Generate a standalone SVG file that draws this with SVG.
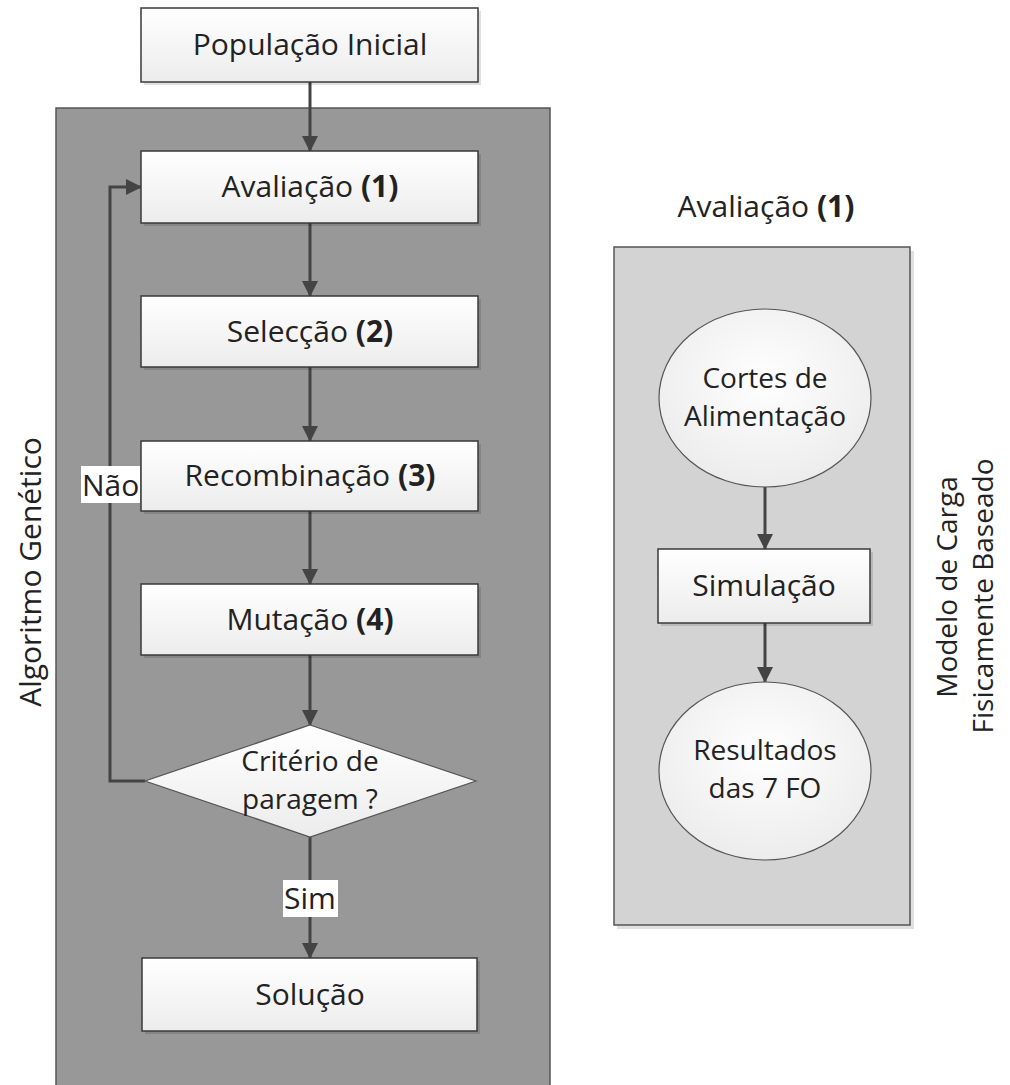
<svg xmlns="http://www.w3.org/2000/svg" width="1010" height="1085" viewBox="0 0 1010 1085">
<defs>
<linearGradient id="boxg" x1="0" y1="0" x2="0" y2="1">
<stop offset="0" stop-color="#ffffff"/>
<stop offset="1" stop-color="#ececec"/>
</linearGradient>
<radialGradient id="ellg" cx="0.5" cy="0.4" r="0.6">
<stop offset="0" stop-color="#ffffff"/>
<stop offset="1" stop-color="#ececec"/>
</radialGradient>
<marker id="arr" markerUnits="userSpaceOnUse" markerWidth="16" markerHeight="16" viewBox="0 0 16 16" refX="15" refY="8" orient="auto">
<path d="M0,0 L16,8 L0,16 Z" fill="#444"/>
</marker>
</defs>
<style>
text{font-family:"Open Sans","Liberation Sans",sans-serif;fill:#222;font-size:30px;}
.c{text-anchor:middle;}
.b{font-weight:bold;}
.v{font-size:28px;}
.m{font-size:28px;}
.box{fill:url(#boxg);stroke:#3a3a3a;stroke-width:1.5;}
.ell{fill:url(#ellg);stroke:#555;stroke-width:1.2;}
.sh{fill:#000;opacity:0.12;}
.con{fill:none;stroke:#444;stroke-width:3;}
</style>
<rect x="0" y="0" width="1010" height="1085" fill="#ffffff"/>
<g id="panel-ag">
<rect x="56" y="108" width="494" height="985" fill="#989898" stroke="#555" stroke-width="1.5"/>
</g>
<g id="panel-av">
<rect x="617" y="251" width="297" height="678" class="sh"/>
<rect x="614" y="247" width="296" height="678" fill="#d3d3d3" stroke="#555" stroke-width="1.5"/>
</g>
<g id="label-ag">
<text class="c" transform="translate(41,572) rotate(-90)">Algoritmo Genético</text>
</g>
<g id="label-mc">
<text class="c v" transform="translate(957,587) rotate(-90)">Modelo de Carga</text>
<text class="c v" transform="translate(993,596) rotate(-90)">Fisicamente Baseado</text>
</g>
<g id="title-av">
<text class="c" x="766" y="217">Avaliação <tspan class="b">(1)</tspan></text>
</g>
<g id="connectors">
<line class="con" x1="310" y1="82" x2="310" y2="151" marker-end="url(#arr)"/>
<line class="con" x1="310" y1="223" x2="310" y2="296" marker-end="url(#arr)"/>
<line class="con" x1="310" y1="367" x2="310" y2="441" marker-end="url(#arr)"/>
<line class="con" x1="310" y1="511" x2="310" y2="584" marker-end="url(#arr)"/>
<line class="con" x1="310" y1="655" x2="310" y2="725" marker-end="url(#arr)"/>
<line class="con" x1="310" y1="837" x2="310" y2="958" marker-end="url(#arr)"/>
<polyline class="con" points="145,781 110,781 110,187 141,187" marker-end="url(#arr)"/>
<line class="con" x1="765" y1="487" x2="765" y2="549" marker-end="url(#arr)"/>
<line class="con" x1="765" y1="623" x2="765" y2="682" marker-end="url(#arr)"/>
<rect x="81" y="466" width="59" height="37" fill="#ffffff"/>
<text x="82" y="496">Não</text>
<rect x="283" y="880" width="55" height="37" fill="#ffffff"/>
<text class="c" x="310" y="909">Sim</text>
</g>
<g id="pop">
<rect x="144" y="11" width="337" height="74" class="sh"/>
<rect x="141" y="8" width="337" height="74" class="box"/>
<text class="c" x="310" y="55">População Inicial</text>
</g>
<g id="avaliacao">
<rect x="144" y="154" width="337" height="72" class="sh"/>
<rect x="141" y="151" width="337" height="72" class="box"/>
<text class="c" x="310" y="197">Avaliação <tspan class="b">(1)</tspan></text>
</g>
<g id="seleccao">
<rect x="144" y="299" width="337" height="71" class="sh"/>
<rect x="141" y="296" width="337" height="71" class="box"/>
<text class="c" x="310" y="342">Selecção <tspan class="b">(2)</tspan></text>
</g>
<g id="recombinacao">
<rect x="144" y="444" width="337" height="70" class="sh"/>
<rect x="141" y="441" width="337" height="70" class="box"/>
<text class="c" x="310" y="486">Recombinação <tspan class="b">(3)</tspan></text>
</g>
<g id="mutacao">
<rect x="144" y="587" width="337" height="71" class="sh"/>
<rect x="141" y="584" width="337" height="71" class="box"/>
<text class="c" x="310" y="630">Mutação <tspan class="b">(4)</tspan></text>
</g>
<g id="criterio">
<polygon points="310,725 476,781 310,837 145,781" fill="url(#boxg)" stroke="#555" stroke-width="1.2"/>
<text class="c m" x="310" y="771">Critério de</text>
<text class="c m" x="310" y="809">paragem ?</text>
</g>
<g id="solucao">
<rect x="145" y="961" width="335" height="73" class="sh"/>
<rect x="142" y="958" width="335" height="73" class="box"/>
<text class="c" x="310" y="1005">Solução</text>
</g>
<g id="cortes">
<ellipse cx="765" cy="398" rx="106" ry="89" class="ell"/>
<text class="c m" x="765" y="388">Cortes de</text>
<text class="c m" x="765" y="426">Alimentação</text>
</g>
<g id="simulacao">
<rect x="661" y="552" width="212" height="74" class="sh"/>
<rect x="658" y="549" width="212" height="74" class="box"/>
<text class="c" x="764" y="596">Simulação</text>
</g>
<g id="resultados">
<ellipse cx="765" cy="771" rx="106" ry="89" class="ell"/>
<text class="c m" x="765" y="760">Resultados</text>
<text class="c m" x="765" y="798">das 7 FO</text>
</g>
</svg>
